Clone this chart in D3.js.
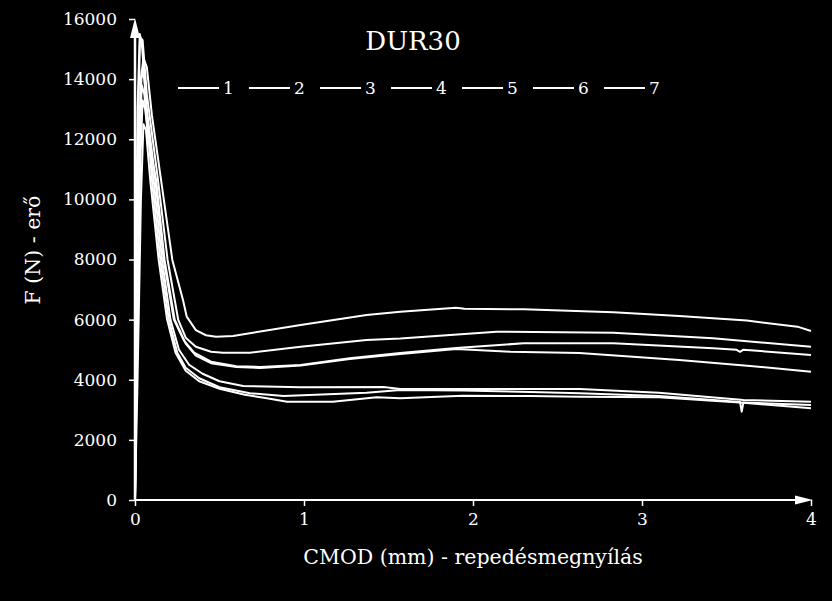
<!DOCTYPE html>
<html><head><meta charset="utf-8">
<script src="https://cdn.jsdelivr.net/npm/d3@7"></script>
<style>html,body{margin:0;padding:0;background:#000;}svg{display:block;}</style>
</head><body>
<script>
const title = "DUR30";
const xLabel = "CMOD (mm) - repedésmegnyílás";
const yLabel = "F (N) - erő";
const seriesNames = ["1","2","3","4","5","6","7"];
const xTicks = [0,1,2,3,4];
const yTicks = [0,2000,4000,6000,8000,10000,12000,14000,16000];

const s1 = [[0,0],[0.008,5000],[0.02,11000],[0.035,14000],[0.05,14700],[0.07,14400],[0.1,12800],[0.154,10646],[0.221,7985],[0.284,6654],[0.306,6100],[0.36,5650],[0.42,5480],[0.48,5430],[0.58,5456],[0.98,5822],[1.37,6155],[1.57,6265],[1.9,6398],[1.95,6360],[2.3,6345],[2.83,6245],[3.22,6122],[3.62,5968],[3.92,5766],[4.0,5623]];
const s2 = [[0,0],[0.006,6000],[0.018,12500],[0.03,15400],[0.045,15300],[0.07,13500],[0.136,10646],[0.193,7985],[0.256,5989],[0.3,5400],[0.36,5100],[0.45,4930],[0.52,4901],[0.68,4901],[0.98,5100],[1.37,5323],[1.57,5373],[2.14,5600],[2.83,5566],[3.42,5380],[4.0,5100]];
const s3 = [[0,0],[0.005,7000],[0.015,13000],[0.028,15500],[0.04,15200],[0.07,13000],[0.12,10646],[0.17,7985],[0.23,6000],[0.29,5300],[0.35,4900],[0.45,4600],[0.6,4450],[0.74,4425],[0.98,4491],[1.27,4714],[1.57,4890],[1.9,5057],[2.3,5213],[2.83,5213],[3.42,5047],[3.56,4995],[3.58,4930],[3.6,5000],[4.0,4824]];
const s4 = [[0,0],[0.01,6000],[0.025,11500],[0.04,13800],[0.055,13500],[0.08,12000],[0.125,10646],[0.175,7985],[0.235,6000],[0.3,5200],[0.36,4800],[0.45,4550],[0.6,4420],[0.74,4390],[0.98,4475],[1.27,4690],[1.57,4857],[1.9,5024],[2.22,4934],[2.63,4890],[3.22,4658],[3.64,4458],[4.0,4268]];
const s5 = [[0,0],[0.012,5000],[0.03,11000],[0.045,13300],[0.06,13000],[0.09,11500],[0.11,10646],[0.16,7985],[0.21,6000],[0.26,5000],[0.32,4500],[0.4,4200],[0.5,3950],[0.64,3793],[0.98,3750],[1.47,3760],[1.57,3693],[1.94,3693],[2.34,3693],[2.63,3693],[3.1,3570],[3.6,3327],[4.0,3270]];
const s6 = [[0,0],[0.01,6000],[0.025,12000],[0.04,14300],[0.055,14000],[0.085,11800],[0.1,10646],[0.15,7985],[0.2,6000],[0.25,4900],[0.3,4400],[0.38,4050],[0.5,3750],[0.68,3550],[0.88,3460],[1.37,3570],[1.57,3660],[1.94,3643],[2.34,3593],[2.63,3550],[3.1,3460],[3.58,3260],[3.59,2938],[3.6,3240],[4.0,3160]];
const s7 = [[0,0],[0.015,4000],[0.035,10000],[0.05,12500],[0.065,12300],[0.09,10646],[0.14,7985],[0.19,6000],[0.24,4900],[0.3,4300],[0.38,3950],[0.5,3700],[0.65,3500],[0.78,3384],[0.9,3270],[1.17,3270],[1.43,3417],[1.57,3384],[1.94,3470],[2.34,3460],[2.63,3437],[3.1,3417],[3.6,3237],[4.0,3050]];
const allSeries = [s1,s2,s3,s4,s5,s6,s7];

const W = 832, H = 601;
const svg = d3.select("body").append("svg").attr("width", W).attr("height", H).style("background","#000");
const font = "DejaVu Serif";
const x = d3.scaleLinear().domain([0,4]).range([135,811]);
const y = d3.scaleLinear().domain([0,16000]).range([500,19]);

const gx = svg.append("g").attr("transform","translate(0,500)")
  .call(d3.axisBottom(x).tickValues(xTicks).tickFormat(d3.format("d")).tickSize(6).tickPadding(7).tickSizeOuter(0));
gx.attr("font-family", font).attr("font-size", 17);
gx.select(".domain").remove();
gx.selectAll("line").attr("stroke","#fff").attr("stroke-width",1.5);
gx.selectAll("text").attr("fill","#fff");

const gy = svg.append("g").attr("transform","translate(135,0)")
  .call(d3.axisLeft(y).tickValues(yTicks).tickFormat(d3.format("d")).tickSize(6).tickPadding(12).tickSizeOuter(0));
gy.attr("font-family", font).attr("font-size", 17);
gy.select(".domain").remove();
gy.selectAll("line").attr("stroke","#fff").attr("stroke-width",1.5);
gy.selectAll("text").attr("fill","#fff");

svg.append("line").attr("x1",x(0)).attr("x2",x(4)-14).attr("y1",y(0)).attr("y2",y(0)).attr("stroke","#fff").attr("stroke-width",2);
svg.append("path").attr("d",`M${x(4)+2},${y(0)} L${x(4)-16},${y(0)-4.5} L${x(4)-16},${y(0)+4.5} Z`).attr("fill","#fff");
svg.append("line").attr("x1",x(0)).attr("x2",x(0)).attr("y1",y(0)).attr("y2",y(16000)+18).attr("stroke","#fff").attr("stroke-width",2.5);
svg.append("path").attr("d",`M${x(0)},${y(16000)-1} L${x(0)-5},${y(16000)+19} L${x(0)+5},${y(16000)+19} Z`).attr("fill","#fff");

const line = d3.line().x(d=>x(d[0])).y(d=>y(d[1]));
svg.append("g").selectAll("path").data(allSeries).join("path")
  .attr("d", line).attr("fill","none").attr("stroke","#fff").attr("stroke-width",2).attr("stroke-linejoin","round");

svg.append("text").attr("x",413).attr("y",50).attr("text-anchor","middle").attr("fill","#fff")
  .attr("font-family",font).attr("font-size",26).text(title);

const lg = svg.append("g").attr("font-family",font).attr("font-size",17);
seriesNames.forEach((n,i)=>{
  const x0 = 178 + i*71;
  lg.append("line").attr("x1",x0).attr("x2",x0+41).attr("y1",88).attr("y2",88).attr("stroke","#fff").attr("stroke-width",2);
  lg.append("text").attr("x",x0+45).attr("y",94).attr("fill","#fff").text(n);
});

svg.append("text").attr("x",473).attr("y",564).attr("text-anchor","middle").attr("fill","#fff")
  .attr("font-family",font).attr("font-size",20.5).text(xLabel);
svg.append("text").attr("transform","translate(40,250) rotate(-90)").attr("text-anchor","middle").attr("fill","#fff")
  .attr("font-family",font).attr("font-size",20.5).text(yLabel);
</script>
</body></html>
